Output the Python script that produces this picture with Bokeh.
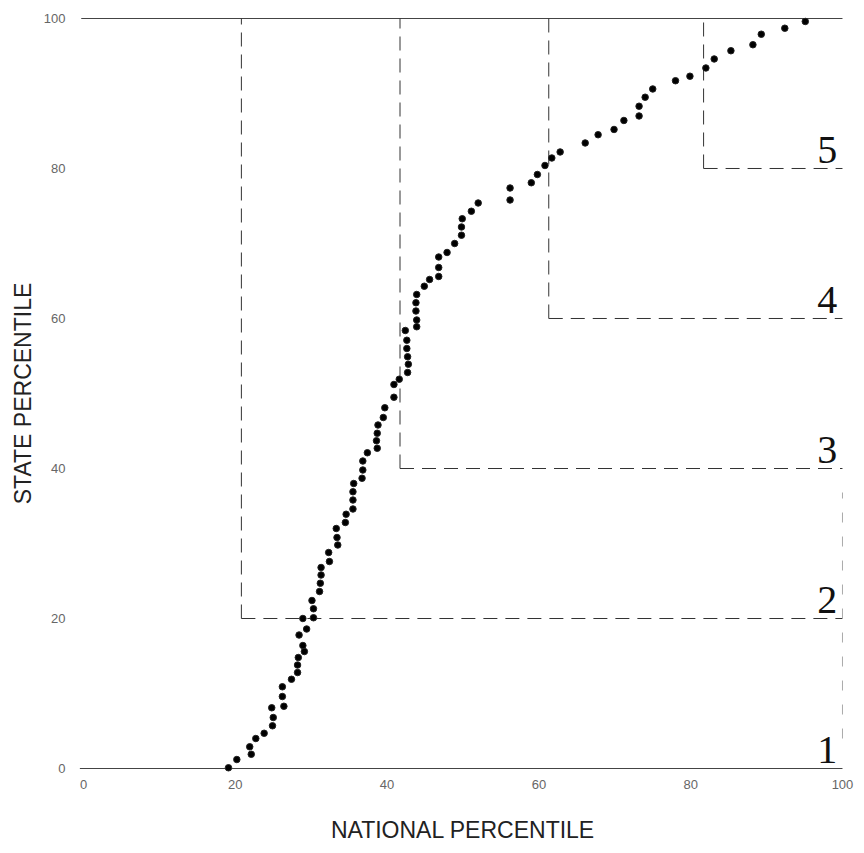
from bokeh.plotting import figure
from bokeh.models import Range1d, FixedTicker
from bokeh.core.properties import value
from bokeh.embed import file_html
from bokeh.resources import INLINE

national = [19.1, 20.2, 22.1, 21.9, 22.7, 23.8, 24.9, 25.0, 24.8, 26.4, 26.2, 26.2, 27.4,
            28.2, 28.2, 28.3, 29.1, 28.9, 28.4, 29.4, 28.9, 30.3, 30.3, 30.1, 31.1, 31.2,
            31.3, 31.3, 32.4, 32.3, 33.5, 33.4, 33.3, 34.5, 34.6, 35.5, 35.5, 35.5, 35.6,
            36.7, 36.8, 36.8, 37.4, 38.7, 38.6, 38.7, 38.8, 39.5, 39.7, 40.9, 40.9, 41.6,
            42.7, 42.8, 42.7, 42.6, 42.6, 42.4, 43.9, 43.9, 43.8, 43.8, 43.9, 44.9, 45.6,
            46.8, 46.8, 46.8, 47.9, 48.9, 49.8, 49.8, 49.9, 51.1, 52.0, 56.2, 56.2, 59.0,
            59.8, 60.8, 61.7, 62.8, 66.1, 67.8, 69.9, 71.2, 73.2, 73.2, 74.0, 75.0, 78.0,
            79.9, 82.0, 83.1, 85.3, 88.2, 89.3, 92.4, 95.1]
state = [0.1, 1.2, 1.9, 2.9, 4.0, 4.7, 5.7, 6.8, 8.1, 8.3, 9.6, 10.9, 11.9,
         12.8, 13.8, 14.8, 15.6, 16.4, 17.8, 18.6, 20.0, 20.1, 21.3, 22.4, 23.6, 24.7,
         25.8, 26.8, 27.6, 28.8, 29.8, 30.8, 32.0, 32.8, 33.9, 34.6, 35.8, 36.9, 38.0,
         38.7, 39.8, 41.0, 42.1, 42.7, 43.7, 44.7, 45.8, 46.8, 48.1, 49.5, 51.2, 51.9,
         52.8, 53.9, 54.9, 56.0, 57.1, 58.4, 58.9, 59.8, 61.0, 62.1, 63.2, 64.3, 65.2,
         65.6, 66.8, 68.2, 68.8, 70.0, 71.1, 72.2, 73.3, 74.3, 75.4, 75.8, 77.4, 78.1,
         79.2, 80.4, 81.4, 82.2, 83.4, 84.5, 85.2, 86.4, 87.0, 88.3, 89.5, 90.6, 91.7,
         92.3, 93.4, 94.6, 95.7, 96.5, 97.9, 98.7, 99.6]

nat_cut = [20.8, 41.7, 61.3, 81.7]
state_cut = [20, 40, 60, 80]
group_labels = ["1", "2", "3", "4", "5"]
group_base = [0, 20, 40, 60, 80]
ticks = [0, 20, 40, 60, 80, 100]

p = figure(width=856, height=852,
           x_range=Range1d(-0.53, 100.53), y_range=Range1d(-0.53, 100.53),
           output_backend="svg", toolbar_location=None,
           min_border_left=79, min_border_right=10, min_border_top=14, min_border_bottom=80)
p.outline_line_color = None
p.grid.visible = False

for ax in (p.xaxis[0], p.yaxis[0]):
    ax.ticker = FixedTicker(ticks=ticks)
    ax.axis_line_color = None
    ax.major_tick_line_color = None
    ax.minor_tick_line_color = None
    ax.major_tick_out = 0
    ax.major_tick_in = 0
    ax.major_label_text_font = "Liberation Sans"
    ax.major_label_text_font_size = "13px"
    ax.major_label_text_color = "#666666"
    ax.axis_label_text_font = "Liberation Sans"
    ax.axis_label_text_font_size = "23px"
    ax.axis_label_text_font_style = "normal"
    ax.axis_label_text_color = "#222222"

p.xaxis.axis_label = "NATIONAL PERCENTILE"
p.yaxis.axis_label = "STATE PERCENTILE"
p.xaxis.major_label_standoff = 7
p.xaxis.axis_label_standoff = 25
p.yaxis.major_label_standoff = 14
p.yaxis.axis_label_standoff = 5

# frame lines at 0 and 100
p.segment(x0=[-0.5, -0.3], y0=[0, 100], x1=[100, 100], y1=[0, 100],
          line_color="#444444", line_width=1.2)

# dashed quintile boxes
p.segment(x0=nat_cut, y0=state_cut, x1=nat_cut, y1=[100] * len(nat_cut),
          line_color="#333333", line_width=1, line_dash="14 8")
p.segment(x0=nat_cut, y0=state_cut, x1=[100] * len(nat_cut), y1=state_cut,
          line_color="#333333", line_width=1, line_dash="14 8")
p.segment(x0=[100], y0=[state_cut[0] * 0.2], x1=[100], y1=[state_cut[1] * 0.92],
          line_color="#aaaaaa", line_width=1, line_dash="10 14")

p.scatter(national, state, size=6.5, fill_color="black", line_color="#222222")

p.text(x=[98.0] * 5, y=[b + 2.5 for b in group_base], text=group_labels,
       text_font=value("Liberation Serif"), text_font_size="40px",
       text_align="center", text_baseline="middle", text_color="#111111")

open("out.html", "w").write(file_html(p, INLINE))
